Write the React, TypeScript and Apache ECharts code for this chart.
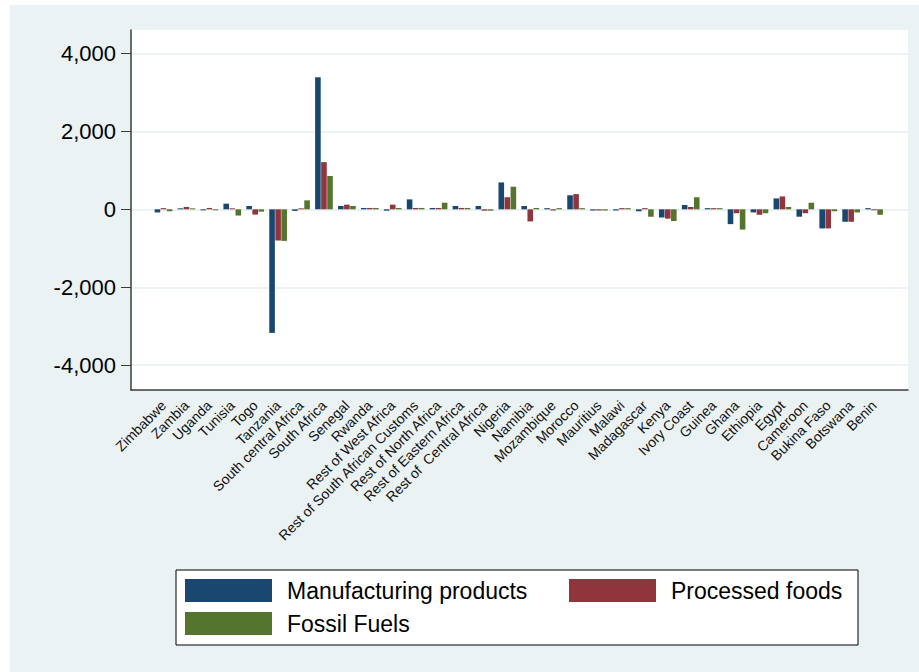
import { useEffect, useRef } from "react";
import * as echarts from "echarts";

// Regions along the horizontal axis, left to right
const regions = [
  "Zimbabwe",
  "Zambia",
  "Uganda",
  "Tunisia",
  "Togo",
  "Tanzania",
  "South central Africa",
  "South Africa",
  "Senegal",
  "Rwanda",
  "Rest of West Africa",
  "Rest of South African Customs",
  "Rest of North Africa",
  "Rest of Eastern Africa",
  "Rest of  Central Africa",
  "Nigeria",
  "Namibia",
  "Mozambique",
  "Morocco",
  "Mauritius",
  "Malawi",
  "Madagascar",
  "Kenya",
  "Ivory Coast",
  "Guinea",
  "Ghana",
  "Ethiopia",
  "Egypt",
  "Cameroon",
  "Bukina Faso",
  "Botswana",
  "Benin",
];

const manufacturing = [
  -80, 25, -25, 145, 85, -3170, -40, 3390, 85, 35, -35, 255, 35, 85, 85, 690,
  85, 30, 360, -30, -30, -50, -210, 110, 30, -380, -80, 280, -190, -490, -320, 30,
];
const processedFoods = [
  30, 60, 35, 25, -135, -800, 25, 1210, 120, 35, 120, 35, 35, 35, -35, 310,
  -310, -30, 390, -30, 30, 30, -240, 60, 30, -100, -140, 330, -100, -490, -320, -25,
];
const fossilFuels = [
  -50, 25, -25, -160, -60, -810, 230, 855, 85, 35, 35, 35, 170, 35, -35, 580,
  35, 30, 30, -30, 30, -190, -300, 310, 30, -520, -100, 60, 170, -50, -80, -140,
];

const seriesNames = ["Manufacturing products", "Processed foods", "Fossil Fuels"];
const seriesColors = ["#1a476f", "#90353b", "#55752f"];
const yTicks = [-4000, -2000, 0, 2000, 4000];

const FONT = "'Liberation Sans', Arial, Helvetica, sans-serif";
const BG = "#eaf2f3";

function withCommas(v: number): string {
  const s = Math.abs(v).toString().replace(/\B(?=(\d{3})+(?!\d))/g, ",");
  return (v < 0 ? "-" : "") + s;
}

export default function App() {
  const ref = useRef<HTMLDivElement>(null);

  useEffect(() => {
    if (!ref.current) return;
    const chart = echarts.init(ref.current, null, { renderer: "svg" });
    const values = [manufacturing, processedFoods, fossilFuels];
    const indices = regions.map((_, i) => i);

    const legendAt = (name: string, left: number, top: number) => ({
      data: [name],
      left,
      top,
      padding: 0,
      itemWidth: 87,
      itemHeight: 23,
      icon: "rect",
      selectedMode: false,
      z: 5,
      textStyle: {
        fontFamily: FONT,
        fontSize: 23,
        color: "#000",
        padding: [0, 0, 0, 10],
      },
    });

    chart.setOption({
      animation: false,
      backgroundColor: BG,
      textStyle: { fontFamily: FONT },
      grid: {
        left: 121,
        top: 25,
        width: 777,
        height: 360,
        show: true,
        backgroundColor: "#ffffff",
        borderWidth: 0,
      },
      xAxis: {
        type: "value",
        min: -1.418,
        max: 32.48,
        axisLine: { show: true, onZero: false, lineStyle: { color: "#3c3c3c", width: 1.5 } },
        axisTick: { show: false },
        splitLine: { show: false },
        axisLabel: {
          customValues: indices,
          formatter: (v: number) => regions[Math.round(v)] ?? "",
          rotate: 45,
          fontSize: 14,
          color: "#111",
          margin: 13,
          fontFamily: FONT,
        },
      },
      yAxis: {
        type: "value",
        min: -4635,
        max: 4600,
        axisLine: { show: true, onZero: false, lineStyle: { color: "#3c3c3c", width: 1.5 } },
        axisTick: {
          show: true,
          length: 10,
          customValues: yTicks,
          lineStyle: { color: "#3c3c3c", width: 1 },
        },
        splitLine: { show: true, lineStyle: { color: BG, width: 2 } },
        axisLabel: {
          customValues: yTicks,
          formatter: (v: number) => withCommas(v),
          fontSize: 22,
          color: "#000",
          margin: 15,
          fontFamily: FONT,
        },
      },
      legend: [
        legendAt(seriesNames[0], 175, 574),
        legendAt(seriesNames[1], 559, 574),
        legendAt(seriesNames[2], 175, 607),
      ],
      graphic: [
        {
          type: "rect",
          z: 1,
          shape: { x: 166, y: 565, width: 682, height: 75 },
          style: { fill: "#ffffff", stroke: "#000", lineWidth: 1 },
        },
      ],
      series: seriesNames.map((name, s) => ({
        name,
        type: "bar",
        barWidth: 5.6,
        barGap: "8%",
        itemStyle: { color: seriesColors[s] },
        data: values[s].map((v, i) => [i, v]),
      })),
    });

    return () => chart.dispose();
  }, []);

  return (
    <div
      ref={ref}
      style={{ position: "fixed", left: 10, top: 5, width: 909, height: 667 }}
    />
  );
}
